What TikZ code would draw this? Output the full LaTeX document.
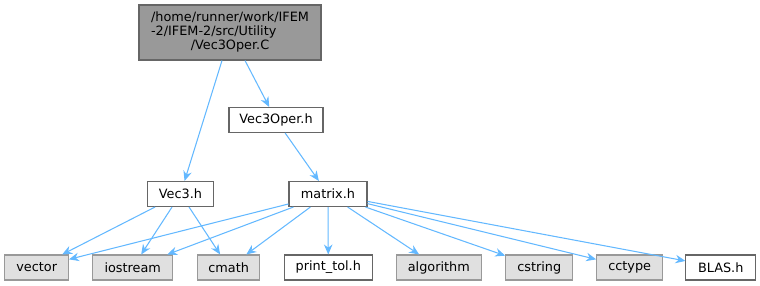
\documentclass[tikz,border=0pt]{standalone}
\usepackage{fontspec}
\setmainfont{DejaVu Sans}
\usepackage{xcolor}
\usetikzlibrary{arrows.meta}
\definecolor{edgeblue}{HTML}{63B8FF}

\begin{document}
\begin{tikzpicture}[
    x=0.02cm, y=-0.02cm,
    file/.style={rectangle, draw=black!60, fill=white, line width=0.6pt, minimum height=0.5cm, inner sep=0pt, font=\fontsize{7.3}{8.5}\selectfont},
    sysfile/.style={file, draw=black!40, fill=black!12},
    rootfile/.style={file, fill=black!40, minimum height=1.1cm},
    arrow/.style={-{Stealth[length=2mm, width=1.7mm]}, edgeblue, line width=0.6pt}
]
\useasboundingbox (0,0) rectangle (760,285);

% source file
\node[rootfile, minimum width=3.64cm] (vec3operC) at (230,32.5) {\def\arraystretch{0.95}\begin{tabular}{@{}l@{}}/home/runner/work/IFEM\\-2/IFEM-2/src/Utility\\\multicolumn{1}{@{}c@{}}{/Vec3Oper.C}\end{tabular}};

% headers
\node[file, minimum width=1.88cm] (vec3operH) at (276,120) {Vec3Oper.h};
\node[file, minimum width=1.31cm] (vec3H) at (180.5,194) {Vec3.h};
\node[file, minimum width=1.56cm] (matrixH) at (328,194) {matrix.h};

% bottom row
\node[sysfile, minimum width=1.27cm] (vector) at (36.7,267.5) {vector};
\node[sysfile, minimum width=1.6cm] (iostream) at (132.7,267.5) {iostream};
\node[sysfile, minimum width=1.25cm] (cmath) at (228.7,267.5) {cmath};
\node[file, minimum width=1.76cm] (printtol) at (328.3,267.5) {print\_tol.h};
\node[sysfile, minimum width=1.71cm] (algorithm) at (438.8,267.5) {algorithm};
\node[sysfile, minimum width=1.34cm] (cstring) at (539.2,267.5) {cstring};
\node[sysfile, minimum width=1.32cm] (cctype) at (629.7,267.5) {cctype};
\node[file, minimum width=1.39cm] (blasH) at (720.7,267.5) {BLAS.h};

% includes
\draw[arrow] ([xshift=-0.16cm]vec3operC.south) -- (vec3H);
\draw[arrow] ([xshift=0.3cm]vec3operC.south) -- (vec3operH);
\draw[arrow] (vec3operH) -- (matrixH);
\draw[arrow] (vec3H) -- (vector);
\draw[arrow] (vec3H) -- (iostream);
\draw[arrow] (vec3H) -- (cmath);
\draw[arrow] (matrixH) -- (vector);
\draw[arrow] (matrixH) -- (iostream);
\draw[arrow] (matrixH) -- (cmath);
\draw[arrow] (matrixH) -- (printtol);
\draw[arrow] (matrixH) -- (algorithm);
\draw[arrow] (matrixH) -- (cstring);
\draw[arrow] (matrixH) -- (cctype);
\draw[arrow] (matrixH) -- (blasH);

\end{tikzpicture}
\end{document}
